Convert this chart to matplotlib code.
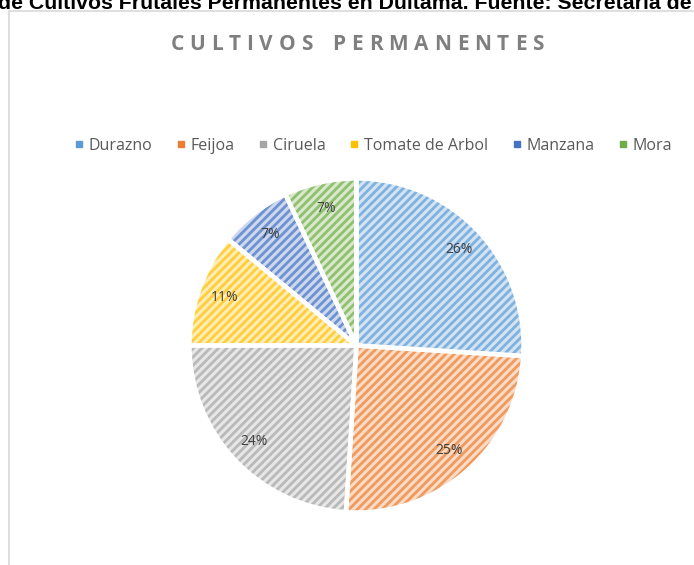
import matplotlib
matplotlib.use("Agg")
import matplotlib.pyplot as plt
from matplotlib.patches import Rectangle
from matplotlib.lines import Line2D
import matplotlib.colors as mcolors
import numpy as np

categories = ["Durazno", "Feijoa", "Ciruela", "Tomate de Arbol", "Manzana", "Mora"]
values = [26, 25, 24, 11, 7, 7]
colors = ["#5B9BD5", "#ED7D31", "#A5A5A5", "#FFC000", "#4472C4", "#70AD47"]
title = "CULTIVOS PERMANENTES"
header = "de Cultivos Frutales Permanentes en Duitama. Fuente: Secretaria de Agricultura"

W, H = 694, 565
fig = plt.figure(figsize=(W / 100, H / 100), dpi=100)
plt.rcParams["hatch.linewidth"] = 2.0

def mix(c, f):
    r = np.array(mcolors.to_rgb(c))
    return tuple(r * (1 - f) + f)

# chart border
fig.patches.append(Rectangle((9 / W, -0.1), 1.2, (H - 11) / H + 0.1, transform=fig.transFigure,
                             fill=False, edgecolor="#D9D9D9", linewidth=1.2))

# header text (cropped at top)
fig.text(-2 / W, (H - 9) / H, header, fontsize=15.3, fontweight="bold",
         family="Liberation Sans", color="black", ha="left", va="baseline")

# title with letter spacing
renderer = fig.canvas.get_renderer()
tw = []
objs = []
for ch in title:
    t = fig.text(0, 0, ch if ch != " " else "I", fontsize=15, fontweight="bold",
                 family="Open Sans", color="#7F7F7F", ha="left", va="center")
    w = t.get_window_extent(renderer).width
    if ch == " ":
        t.set_text("")
        w = w * 1.2
    objs.append(t)
    tw.append(w)
track = 5.8
total = sum(tw) + track * (len(title) - 1)
x = 357 - total / 2
for t, w in zip(objs, tw):
    t.set_position((x / W, (H - 45) / H))
    x += w + track

# pie
cx, cy, R = 356.5, H - 345.5, 167
ax = fig.add_axes([(cx - R) / W, (cy - R) / H, 2 * R / W, 2 * R / H])
wedges, texts, autotexts = ax.pie(values, startangle=90, counterclock=False,
                                  colors=[mix(c, 0.72) for c in colors],
                                  autopct="%d%%", pctdistance=0.84, radius=1,
                                  wedgeprops=dict(linewidth=0, edgecolor="none"),
                                  textprops=dict(fontsize=10, color="#404040", family="Open Sans"))
for w_, c in zip(wedges, colors):
    w_.set_hatch("////")
    w_.set_edgecolor(mix(c, 0.22))
    w_.set_linewidth(0)
wedges2, _ = ax.pie(values, startangle=90, counterclock=False, radius=1,
                    colors=["none"] * len(values),
                    wedgeprops=dict(linewidth=3.2, edgecolor="white", fill=False))
ax.set_xlim(-1.0, 1.0)
ax.set_ylim(-1.0, 1.0)
ax.axis("off")
for t in autotexts:
    t.set_zorder(5)

handles = [Line2D([], [], marker="s", linestyle="none", markersize=5,
                  markerfacecolor=c, markeredgecolor=c) for c in colors]
fig.legend(handles, categories, loc="center", bbox_to_anchor=(373 / W, (H - 146) / H),
           ncol=6, frameon=False, handlelength=0.6, handletextpad=0.3,
           columnspacing=1.5, prop=dict(family="Open Sans", size=11.5), labelcolor="#595959")

fig.savefig("out.png", dpi=100)
